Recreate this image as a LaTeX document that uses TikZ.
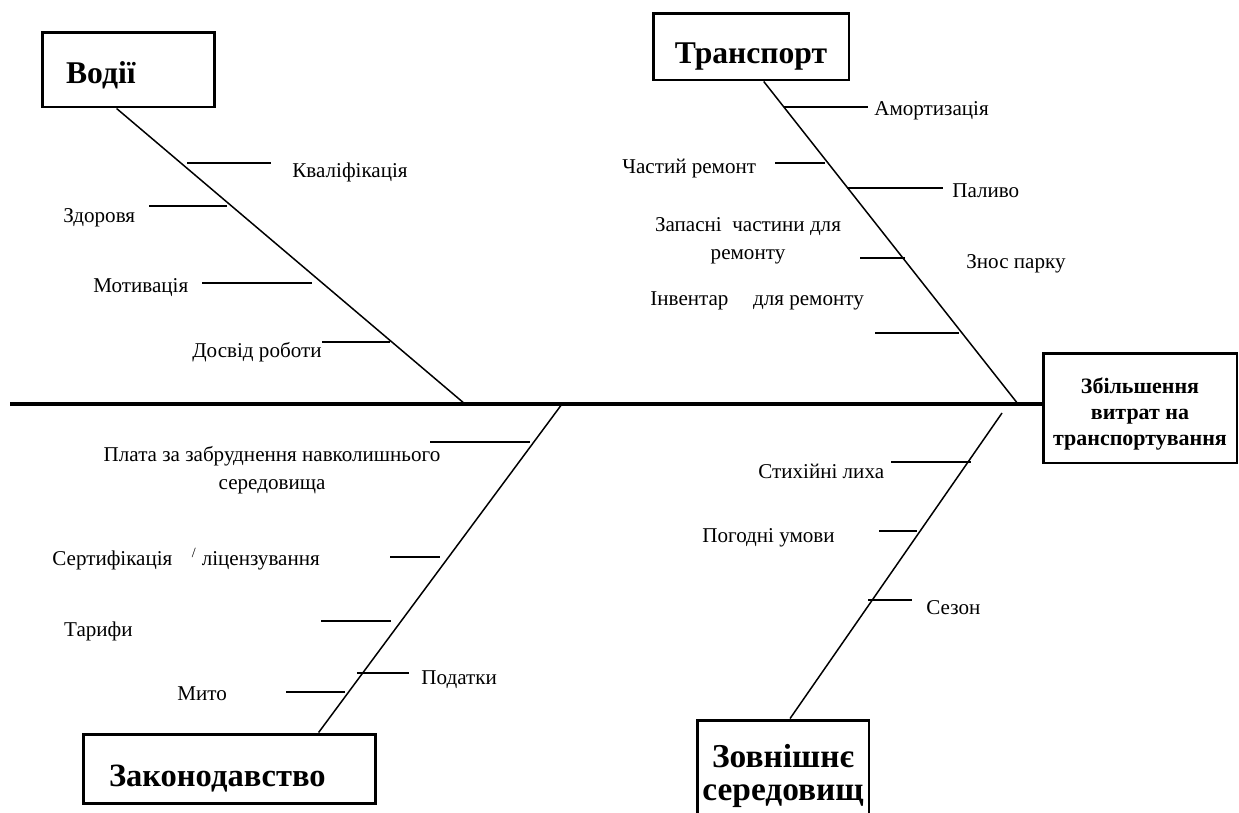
\documentclass[tikz,border=0pt]{standalone}
\usepackage{fontspec}
\setmainfont{Liberation Serif}
\usetikzlibrary{calc}

\begin{document}
\begin{tikzpicture}[x=0.02cm,y=-0.02cm]
  \tikzstyle{catbox}=[draw,line width=1.7pt,rectangle,inner sep=0pt,font=\bfseries\fontsize{18}{18.5}\selectfont]
  \tikzstyle{bone}=[line width=0.85pt]
  \tikzstyle{twig}=[line width=1.2pt]
  \tikzstyle{cause}=[inner sep=0pt,font=\fontsize{12}{16}\selectfont]

  \useasboundingbox (0,0) rectangle (1239,812);

  % head and spine
  \node[catbox,minimum width=3.88cm,minimum height=2.2cm,
        font=\bfseries\fontsize{12.5}{14.8}\selectfont] (effect) at (1140,408)
        {\raisebox{-6.5pt}[0pt][0pt]{\begin{tabular}{@{}c@{}}Збільшення\\витрат на\\транспортування\end{tabular}}};
  \coordinate (tail) at (10,404);
  \draw[line width=2.3pt] (tail) -- (tail -| effect.west);

  % category boxes
  \node[catbox,minimum width=3.46cm,minimum height=1.5cm] (vodii) at (128.5,69.5)
        {\raisebox{-7.7pt}[0pt][0pt]{\makebox[2.5cm][l]{Водії}}};
  \node[catbox,minimum width=3.92cm,minimum height=1.34cm] (transport) at (751,46.5)
        {\raisebox{-9.4pt}[0pt][0pt]{Транспорт}};
  \node[catbox,minimum width=5.86cm,minimum height=1.38cm,
        font=\bfseries\fontsize{18.5}{19}\selectfont] (zakon) at (229.5,768.5)
        {\raisebox{-10pt}[0pt][0pt]{\makebox[4.82cm][l]{Законодавство}}};
  \node[catbox,minimum width=3.44cm,minimum height=2.24cm,align=center,
        font=\bfseries\fontsize{19}{18.5}\selectfont] (zovn) at (783,776) {Зовнішнє\\середовищ};

  % bones
  \coordinate (vj) at (465,404);
  \coordinate (tj) at (1018,404);
  \coordinate (zj) at (562,404);
  \coordinate (ej) at (1002,413);
  \draw[bone] (vodii.253) -- (vj);
  \draw[bone] (transport.290) -- (tj);
  \draw[bone] (zakon.22.7) -- (zj);
  \draw[bone] (zovn.83) -- (ej);

  % twigs
  \foreach \xa/\xb/\y in {187/271/163, 149/227/206, 202/312/283, 322/390/342,
                          784/868/107, 775/825/163, 847/943/188, 860/905/258, 875/959/333,
                          430/530/442, 390/440/557, 321/391/621, 357/409/673, 286/345/692,
                          891/971/462, 879/917/531, 868/912/600}
    \draw[twig] (\xa,\y) -- (\xb,\y);

  % causes
  \node[cause,anchor=west] (kvalif) at (292,172) {Кваліфікація};
  \node[cause,anchor=west] (zdorov) at (63,218) {Здоровя};
  \node[cause,anchor=west] (motyv) at (93,288) {Мотивація};
  \node[cause,anchor=west] (dosvid) at (192,352) {Досвід роботи};

  \node[cause,anchor=west] (amort) at (874,111) {Амортизація};
  \node[cause,anchor=west] (remont) at (622,169) {Частий ремонт};
  \node[cause,anchor=west] (palyvo) at (952,191) {Паливо};
  \node[cause,align=center] (zapchast) at (748,241) {Запасні\ \ частини для\\ремонту};
  \node[cause,anchor=west] (znos) at (966,264) {Знос парку};
  \node[cause,anchor=west] (inventar) at (650,301) {Інвентар\hspace{14pt}для ремонту};

  \node[cause,align=center] (plata) at (272,470) {Плата за забруднення навколишнього\\середовища};
  \node[cause,anchor=west] (sertyf) at (52,559)
        {Сертифікація\hspace{11pt}\textsuperscript{/}\hspace{3pt}ліцензування};
  \node[cause,anchor=east] (taryfy) at (133,631) {Тарифи};
  \node[cause,anchor=west] (podatky) at (421,680) {Податки};
  \node[cause,anchor=west] (myto) at (177,694) {Мито};

  \node[cause,anchor=west] (styhiia) at (758,471) {Стихійні лиха};
  \node[cause,anchor=west] (pogoda) at (702,538) {Погодні умови};
  \node[cause,anchor=west] (sezon) at (926,608) {Сезон};
\end{tikzpicture}
\end{document}
